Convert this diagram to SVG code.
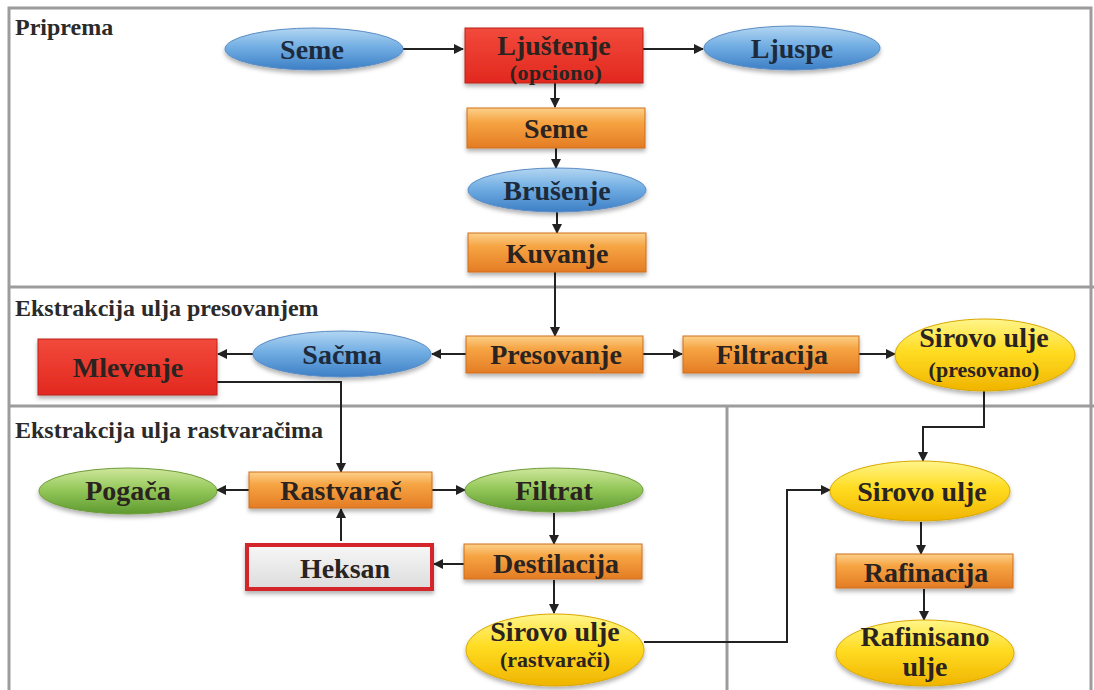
<svg xmlns="http://www.w3.org/2000/svg" width="1094" height="690" viewBox="0 0 1094 690">
<defs>
<linearGradient id="gBlue" x1="0" y1="0" x2="0" y2="1">
<stop offset="0" stop-color="#b3d6f2"/><stop offset="0.45" stop-color="#72aee3"/><stop offset="1" stop-color="#3d7fc6"/>
</linearGradient>
<linearGradient id="gOrange" x1="0" y1="0" x2="0" y2="1">
<stop offset="0" stop-color="#fcd08a"/><stop offset="0.35" stop-color="#f6a443"/><stop offset="1" stop-color="#e47c24"/>
</linearGradient>
<linearGradient id="gRed" x1="0" y1="0" x2="0" y2="1">
<stop offset="0" stop-color="#f24a3c"/><stop offset="1" stop-color="#e2281f"/>
</linearGradient>
<linearGradient id="gGreen" x1="0" y1="0" x2="0" y2="1">
<stop offset="0" stop-color="#cfe79c"/><stop offset="0.45" stop-color="#96c95c"/><stop offset="1" stop-color="#5e9a2f"/>
</linearGradient>
<linearGradient id="gYellow" x1="0" y1="0" x2="0" y2="1">
<stop offset="0" stop-color="#fff58a"/><stop offset="0.45" stop-color="#ffdc22"/><stop offset="1" stop-color="#f0b400"/>
</linearGradient>
<linearGradient id="gGray" x1="0" y1="0" x2="0" y2="1">
<stop offset="0" stop-color="#f7f7f7"/><stop offset="1" stop-color="#dcdcdc"/>
</linearGradient>
<filter id="sh" x="-10%" y="-20%" width="120%" height="150%">
<feDropShadow dx="0" dy="3" stdDeviation="2" flood-color="#000" flood-opacity="0.3"/>
</filter>
<marker id="arr" viewBox="0 0 10 10" refX="9" refY="5" markerWidth="5" markerHeight="5" orient="auto" markerUnits="strokeWidth">
<path d="M0,0 L10,5 L0,10 z" fill="#222"/>
</marker>
<style>
.frame{fill:none;stroke:#9c9c9c;stroke-width:3}
.div{stroke:#9c9c9c;stroke-width:3;fill:none}
.t{font-family:"Liberation Serif",serif;font-weight:700}
.title{font-size:24px;fill:#2a2a2a}
.lbl{font-size:28px;fill:#2a2320;text-anchor:middle}
.sub{font-size:22px;fill:#2a2320;text-anchor:middle}
.blue{fill:url(#gBlue);stroke:#5a8cc4;stroke-width:1;filter:url(#sh)}
.orange{fill:url(#gOrange);stroke:#cf6f1c;stroke-width:1;filter:url(#sh)}
.red{fill:url(#gRed);stroke:#b8231b;stroke-width:1;filter:url(#sh)}
.green{fill:url(#gGreen);stroke:#6e9c3a;stroke-width:1;filter:url(#sh)}
.yellow{fill:url(#gYellow);stroke:#d9a800;stroke-width:1;filter:url(#sh)}
.heks{fill:url(#gGray);stroke:#d4262c;stroke-width:4;filter:url(#sh)}
.con{fill:none;stroke:#222;stroke-width:2}
.bl{fill:#1d2a3c}
</style>
</defs>
<rect width="1094" height="690" fill="#fff"/>
<g id="frame">
<rect class="frame" x="9" y="8" width="1082" height="700"/>
<line class="div" x1="9" y1="287" x2="1094" y2="287"/>
<line class="div" x1="9" y1="406" x2="1094" y2="406"/>
<line class="div" x1="727" y1="406" x2="727" y2="690" stroke-width="2"/>
<text class="t title" x="15" y="35">Priprema</text>
<text class="t title" x="15" y="316">Ekstrakcija ulja presovanjem</text>
<text class="t title" x="15" y="438">Ekstrakcija ulja rastvaračima</text>
</g>
<g id="connectors">
<path class="con" d="M403,49 H463" marker-end="url(#arr)"/>
<path class="con" d="M643,49 H703" marker-end="url(#arr)"/>
<path class="con" d="M555,83 V107" marker-end="url(#arr)"/>
<path class="con" d="M556,148 V168" marker-end="url(#arr)"/>
<path class="con" d="M557,212 V233" marker-end="url(#arr)"/>
<path class="con" d="M555,272 V336" marker-end="url(#arr)"/>
<path class="con" d="M466,354 H432" marker-end="url(#arr)"/>
<path class="con" d="M253,354 H218" marker-end="url(#arr)"/>
<path class="con" d="M643,354 H682" marker-end="url(#arr)"/>
<path class="con" d="M859,354 H895" marker-end="url(#arr)"/>
<path class="con" d="M984,390 V427 H923 V461" marker-end="url(#arr)"/>
<path class="con" d="M217,382 H341 V472" marker-end="url(#arr)"/>
<path class="con" d="M249,490 H217" marker-end="url(#arr)"/>
<path class="con" d="M432,490 H465" marker-end="url(#arr)"/>
<path class="con" d="M554,513 V544" marker-end="url(#arr)"/>
<path class="con" d="M464,564 H434" marker-end="url(#arr)"/>
<path class="con" d="M341,541 V509" marker-end="url(#arr)"/>
<path class="con" d="M554,580 V613" marker-end="url(#arr)"/>
<path class="con" d="M644,642 H787 V490 H830" marker-end="url(#arr)"/>
<path class="con" d="M921,522 V554" marker-end="url(#arr)"/>
<path class="con" d="M924,589 V620" marker-end="url(#arr)"/>
</g>
<g id="seme1"><ellipse class="blue" cx="314" cy="49" rx="89" ry="21"/><text class="t lbl bl" x="312" y="59">Seme</text></g>
<g id="ljustenje"><rect class="red" x="465" y="28" width="178" height="55"/><text class="t lbl" x="554" y="55" fill="#3a1c12">Ljuštenje</text><text class="t sub" x="556" y="80" fill="#3a1c12" letter-spacing="0.5">(opciono)</text></g>
<g id="ljuspe"><ellipse class="blue" cx="792" cy="48" rx="88" ry="22"/><text class="t lbl bl" x="792" y="58">Ljuspe</text></g>
<g id="seme2"><rect class="orange" x="467" y="108" width="178" height="40"/><text class="t lbl" x="556" y="138">Seme</text></g>
<g id="brusenje"><ellipse class="blue" cx="557" cy="190" rx="89" ry="22"/><text class="t lbl bl" x="557" y="200">Brušenje</text></g>
<g id="kuvanje"><rect class="orange" x="468" y="233" width="178" height="39"/><text class="t lbl" x="557" y="263">Kuvanje</text></g>
<g id="mlevenje"><rect class="red" x="38" y="339" width="179" height="56"/><text class="t lbl" x="128" y="377" fill="#3a1c12">Mlevenje</text></g>
<g id="sacma"><ellipse class="blue" cx="342" cy="354" rx="89" ry="23"/><text class="t lbl bl" x="342" y="364">Sačma</text></g>
<g id="presovanje"><rect class="orange" x="466" y="336" width="177" height="37"/><text class="t lbl" x="556" y="364">Presovanje</text></g>
<g id="filtracija"><rect class="orange" x="683" y="336" width="176" height="37"/><text class="t lbl" x="772" y="364">Filtracija</text></g>
<g id="sirovo-pres"><ellipse class="yellow" cx="985" cy="355" rx="90" ry="36"/><text class="t lbl" x="984" y="347">Sirovo ulje</text><text class="t sub" x="984" y="377">(presovano)</text></g>
<g id="pogaca"><ellipse class="green" cx="128" cy="491" rx="89" ry="23"/><text class="t lbl" x="128" y="500">Pogača</text></g>
<g id="rastvarac"><rect class="orange" x="249" y="472" width="183" height="36"/><text class="t lbl" x="341" y="500">Rastvarač</text></g>
<g id="filtrat"><ellipse class="green" cx="554" cy="490" rx="89" ry="22"/><text class="t lbl" x="554" y="500">Filtrat</text></g>
<g id="heksan"><rect class="heks" x="247" y="545" width="185" height="44"/><text class="t lbl" x="345" y="578" fill="#333">Heksan</text></g>
<g id="destilacija"><rect class="orange" x="464" y="544" width="178" height="35"/><text class="t lbl" x="556" y="573">Destilacija</text></g>
<g id="sirovo-rastv"><ellipse class="yellow" cx="555" cy="650" rx="89" ry="36"/><text class="t lbl" x="555" y="641">Sirovo ulje</text><text class="t sub" x="555" y="667">(rastvarači)</text></g>
<g id="sirovo"><ellipse class="yellow" cx="920" cy="491" rx="90" ry="30"/><text class="t lbl" x="922" y="501">Sirovo ulje</text></g>
<g id="rafinacija"><rect class="orange" x="836" y="554" width="177" height="34"/><text class="t lbl" x="926" y="582">Rafinacija</text></g>
<g id="rafinisano"><ellipse class="yellow" cx="925" cy="653" rx="89" ry="33"/><text class="t lbl" x="925" y="646">Rafinisano</text><text class="t lbl" x="925" y="676">ulje</text></g>
</svg>
